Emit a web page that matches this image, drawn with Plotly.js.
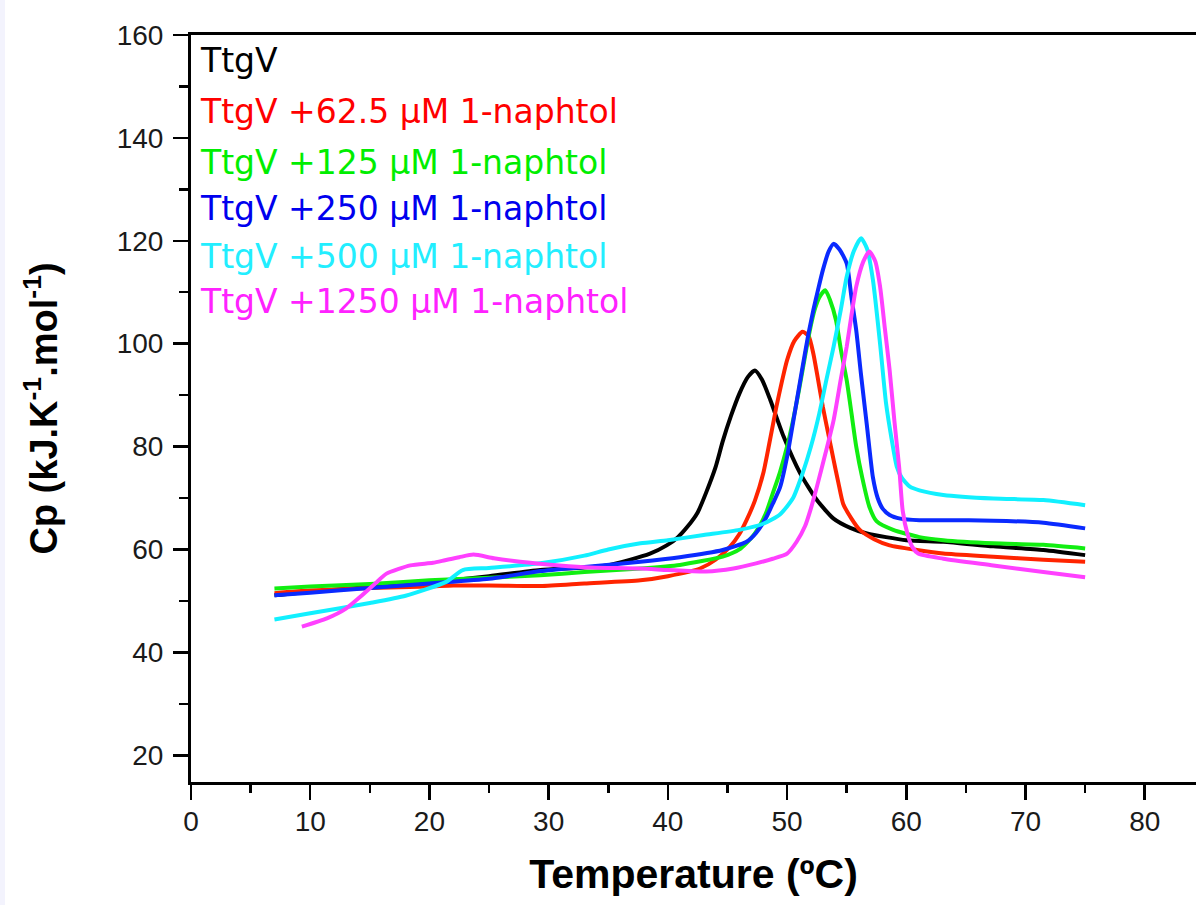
<!DOCTYPE html>
<html>
<head>
<meta charset="utf-8">
<script src="https://cdn.plot.ly/plotly-3.0.1.min.js"></script>
<style>html,body{margin:0;padding:0;background:#fff;overflow:hidden}#chart{width:1196px;height:905px}</style>
</head>
<body>
<div id="chart"></div>
<script>
// Series names
const seriesNames = [
  "TtgV",
  "TtgV +62.5 μM 1-naphtol",
  "TtgV +125 μM 1-naphtol",
  "TtgV +250 μM 1-naphtol",
  "TtgV +500 μM 1-naphtol",
  "TtgV +1250 μM 1-naphtol"
];

// TtgV
const tBlack = [7.0, 10, 15, 20, 25, 29.3, 34.9, 38.5, 39.9, 40.8, 41.6, 42.5, 43.2, 44.0, 44.6, 45.3, 46.0, 46.7, 47.3, 47.9, 48.6, 49.7, 51.1, 52.5, 53.9, 55.3, 56.7, 60.0, 63.1, 67.3, 71.5, 75.0];
const cpBlack = [51.1, 51.8, 52.7, 53.6, 54.8, 56.0, 56.9, 59.2, 60.8, 62.3, 64.3, 67.2, 71.0, 76.0, 81.0, 86.0, 90.3, 93.5, 94.8, 93.0, 89.0, 82.0, 74.8, 69.6, 66.0, 64.2, 63.1, 61.8, 61.5, 60.6, 59.9, 58.9];

// +62.5 uM
const tRed = [7.0, 10, 15, 20, 22, 25, 29.3, 33, 37.7, 40, 42.7, 44.0, 45.2, 46.0, 46.6, 47.3, 48.0, 48.5, 49.1, 49.6, 50.0, 50.6, 51.3, 51.8, 52.2, 52.6, 53.0, 53.5, 53.9, 54.3, 54.7, 55.4, 56.1, 57.3, 58.6, 60.9, 63.1, 67.3, 71.5, 75.0];
const cpRed = [51.5, 52.0, 52.5, 52.8, 53.0, 53.0, 52.9, 53.4, 54.0, 54.8, 56.3, 58.0, 60.5, 63.0, 65.7, 69.5, 74.8, 80.5, 87.7, 93.0, 96.8, 100.5, 102.3, 101.5, 98.1, 93.0, 87.7, 82.0, 77.4, 73.0, 68.9, 66.0, 63.8, 62.0, 60.8, 59.9, 59.2, 58.6, 58.0, 57.6];

// +125 uM
const tGreen = [7.0, 10, 15, 20, 25, 29.3, 33, 37.7, 41, 44.6, 46.0, 47.1, 47.8, 48.3, 48.8, 49.4, 50.0, 50.5, 51.0, 51.5, 51.9, 52.3, 52.7, 53.2, 53.6, 54.1, 54.5, 55.0, 55.4, 55.8, 56.3, 56.9, 57.5, 58.9, 61.1, 63.1, 67.3, 71.5, 75.0];
const cpGreen = [52.4, 52.8, 53.3, 54.0, 54.5, 55.0, 55.6, 56.3, 57.0, 58.6, 60.0, 62.5, 65.0, 67.5, 70.9, 75.0, 80.0, 85.1, 91.0, 97.5, 102.5, 106.5, 109.0, 110.4, 108.5, 104.6, 99.0, 92.9, 86.5, 80.0, 74.0, 68.3, 65.5, 63.8, 62.4, 61.8, 61.2, 60.9, 60.2];

// +250 uM
const tBlue = [7.0, 10, 15, 20, 25, 29.3, 33, 37.7, 41, 44.6, 46.6, 47.4, 48.2, 48.8, 49.4, 50.0, 50.6, 51.3, 51.8, 52.2, 52.6, 53.0, 53.5, 53.9, 54.4, 55.0, 55.4, 55.8, 56.2, 56.7, 57.2, 57.6, 58.0, 58.6, 59.5, 61.1, 63.1, 67.3, 71.5, 75.0];
const cpBlue = [51.1, 51.6, 52.5, 53.4, 54.3, 55.8, 56.6, 57.6, 58.5, 59.9, 61.5, 63.2, 66.0, 68.9, 72.0, 78.0, 86.0, 95.5, 102.0, 106.5, 110.5, 114.3, 118.0, 119.4, 118.3, 115.6, 109.0, 102.6, 94.0, 84.0, 74.0, 70.0, 68.0, 66.7, 66.0, 65.7, 65.7, 65.6, 65.2, 64.1];

// +500 uM
const tCyan = [7.0, 10, 15, 18, 21.4, 22.8, 25, 29.3, 33, 35, 37.7, 40, 43, 46.0, 48.0, 49.4, 50.5, 51.3, 52.0, 52.7, 53.3, 53.9, 54.5, 55.0, 55.6, 56.2, 56.7, 57.2, 57.8, 58.3, 58.8, 59.2, 59.6, 60.3, 61.1, 63.1, 67.3, 71.5, 75.0];
const cpCyan = [46.4, 47.6, 49.6, 51.0, 53.7, 56.0, 56.4, 57.3, 58.8, 60.0, 61.2, 61.8, 62.8, 63.8, 65.0, 66.8, 70.0, 74.8, 80.0, 86.4, 93.0, 99.4, 106.5, 113.0, 118.0, 120.5, 118.5, 112.4, 100.0, 88.4, 81.0, 76.1, 74.0, 72.2, 71.5, 70.6, 69.9, 69.6, 68.6];

// +1250 uM
const tMagenta = [9.3, 11.4, 13.0, 14.2, 15.5, 16.4, 18.4, 20.3, 21.3, 22.5, 23.7, 25.4, 27.6, 30.9, 33.5, 37.7, 40, 43.2, 45.5, 47.4, 48.8, 50.0, 50.8, 51.5, 52.0, 52.5, 53.2, 53.9, 54.5, 55.0, 55.4, 55.8, 56.4, 56.9, 57.4, 57.8, 58.2, 58.6, 59.0, 59.4, 59.7, 60.1, 60.5, 61.0, 63.1, 67.3, 71.5, 75.0];
const cpMagenta = [45.0, 46.6, 48.5, 50.8, 53.5, 55.3, 56.9, 57.4, 57.9, 58.5, 59.0, 58.3, 57.6, 56.9, 56.5, 56.3, 56.0, 55.7, 56.3, 57.3, 58.2, 59.2, 61.5, 64.5, 68.0, 72.2, 78.5, 85.1, 93.0, 99.4, 105.5, 111.1, 116.0, 117.9, 116.0, 111.1, 103.0, 94.9, 85.0, 76.0, 67.5, 63.0, 60.5, 59.2, 58.2, 56.9, 55.6, 54.6];

// Tick values
const xTicks = [0, 10, 20, 30, 40, 50, 60, 70, 80];
const yTicks = [20, 40, 60, 80, 100, 120, 140, 160];

const xs = [tBlack, tRed, tGreen, tBlue, tCyan, tMagenta];
const ys = [cpBlack, cpRed, cpGreen, cpBlue, cpCyan, cpMagenta];
const lineColors = ["#000000", "#ff2400", "#11ee11", "#0a2aff", "#11f0ff", "#ff40ff"];
const textColors = ["#000000", "#ff0000", "#00ee00", "#0000ee", "#22eeff", "#ff22ff"];
const legendY = [61, 111, 162, 208, 257, 301];

const traces = xs.map((x, i) => ({
  x: x, y: ys[i], type: "scatter", mode: "lines", name: seriesNames[i],
  line: {color: lineColors[i], width: 4, shape: "spline", smoothing: 0.6},
  showlegend: false
}));

const L = 191, T = 35, B = 123, W = 1196, H = 905;
const plotW = W - L, plotH = H - T - B;

const annotations = seriesNames.map((s, i) => ({
  text: s, xref: "paper", yref: "paper",
  x: (198 - L) / plotW, y: 1 - (legendY[i] - T) / plotH,
  xanchor: "left", yanchor: "middle", showarrow: false,
  font: {family: "DejaVu Sans", size: 33, color: textColors[i]}
}));

const axisCommon = {
  showline: true, linecolor: "#000", linewidth: 3,
  ticks: "outside", ticklen: 15, tickwidth: 2.5, tickcolor: "#000",
  showgrid: false, zeroline: false,
  tickfont: {family: "Liberation Sans, Arial", size: 28, color: "#1a1a1a"}
};

const layout = {
  width: W, height: H,
  margin: {l: L, r: 0, t: T, b: B},
  paper_bgcolor: "#ffffff", plot_bgcolor: "#ffffff",
  xaxis: Object.assign({}, axisCommon, {
    range: [0, 84.3], tickvals: xTicks, mirror: true,
    minor: {ticks: "outside", ticklen: 8, tickwidth: 2.5, tickcolor: "#000", dtick: 5, tick0: 0},
    ticklabelstandoff: -3,
    title: {text: "Temperature (ºC)", font: {family: "Liberation Sans, Arial", size: 41, color: "#000", weight: "bold"}, standoff: 24}
  }),
  yaxis: Object.assign({}, axisCommon, {
    range: [14.8, 160], tickvals: yTicks,
    minor: {ticks: "outside", ticklen: 9, tickwidth: 2.5, tickcolor: "#000", dtick: 10, tick0: 0},
    ticklabelstandoff: 4,
    title: {text: "Cp (kJ.K<sup>-1</sup>.mol<sup>-1</sup>)", font: {family: "Liberation Sans, Arial", size: 38, color: "#000", weight: "bold"}, standoff: 48}
  }),
  shapes: [{
    type: "rect", xref: "paper", yref: "paper", layer: "below",
    x0: -L / plotW, x1: (5 - L) / plotW, y0: -B / plotH, y1: 1 + T / plotH,
    fillcolor: "#f3f3fd", line: {width: 0}
  }],
  annotations: annotations
};

Plotly.newPlot("chart", traces, layout, {displayModeBar: false, staticPlot: true});
</script>
</body>
</html>
